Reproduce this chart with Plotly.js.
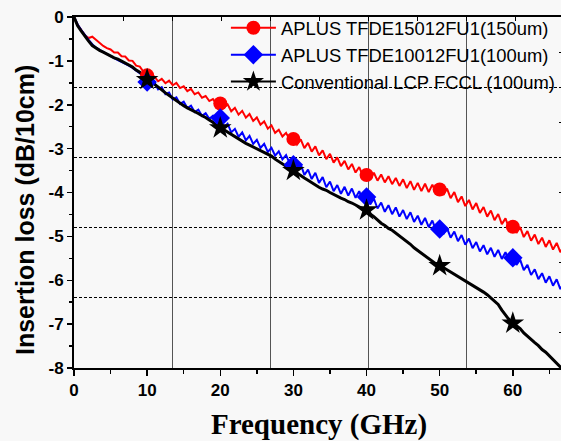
<!DOCTYPE html>
<html>
<head>
<meta charset="utf-8">
<script src="https://cdn.plot.ly/plotly-3.0.1.min.js"></script>
<style>
html,body{margin:0;padding:0;background:#f8f8f8;overflow:hidden;width:561px;height:441px;}
#chart{width:570px;height:441px;}
</style>
</head>
<body>
<div id="chart"></div>
<script>
const freq = [0,0.5,1,1.5,2,2.5,3,3.5,4,4.5,5,5.5,6,6.5,7,7.5,8,8.5,9,9.5,
10,10.5,11,11.5,12,12.5,13,13.5,14,14.5,15,15.5,16,16.5,17,17.5,18,18.5,19,19.5,
20,20.5,21,21.5,22,22.5,23,23.5,24,24.5,25,25.5,26,26.5,27,27.5,28,28.5,29,29.5,
30,30.5,31,31.5,32,32.5,33,33.5,34,34.5,35,35.5,36,36.5,37,37.5,38,38.5,39,39.5,
40,40.5,41,41.5,42,42.5,43,43.5,44,44.5,45,45.5,46,46.5,47,47.5,48,48.5,49,49.5,
50,50.5,51,51.5,52,52.5,53,53.5,54,54.5,55,55.5,56,56.5,57,57.5,58,58.5,59,59.5,
60,60.5,61,61.5,62,62.5,63,63.5,64,64.5,65,65.5,66,66.5,67];

const lossTFDE150 = [0,-0.18,-0.30,-0.42,-0.48,-0.45,-0.52,-0.60,-0.66,-0.71,-0.74,-0.81,-0.81,-0.895,-0.90,-0.99,-1.00,-1.11,-1.13,-1.25,
-1.30,-1.39,-1.36,-1.465,-1.41,-1.51,-1.45,-1.555,-1.50,-1.62,-1.58,-1.69,-1.64,-1.76,-1.72,-1.84,-1.80,-1.915,-1.87,-1.98,
-1.93,-2.07,-1.99,-2.15,-2.07,-2.225,-2.14,-2.295,-2.21,-2.37,-2.29,-2.455,-2.38,-2.545,-2.47,-2.64,-2.57,-2.725,-2.64,-2.80,
-2.72,-2.905,-2.79,-2.99,-2.87,-3.07,-2.95,-3.155,-3.04,-3.24,-3.12,-3.32,-3.20,-3.40,-3.28,-3.475,-3.35,-3.545,-3.42,-3.62,
-3.50,-3.685,-3.55,-3.73,-3.59,-3.77,-3.63,-3.81,-3.67,-3.85,-3.70,-3.90,-3.74,-3.94,-3.78,-3.97,-3.80,-3.99,-3.82,-4.01,
-3.84,-4.055,-3.91,-4.13,-3.99,-4.22,-4.09,-4.31,-4.17,-4.385,-4.24,-4.465,-4.33,-4.55,-4.41,-4.63,-4.49,-4.72,-4.59,-4.82,
-4.69,-4.92,-4.79,-5.015,-4.88,-5.10,-4.96,-5.175,-5.03,-5.24,-5.09,-5.30,-5.15,-5.36,-5.21];

const lossTFDE100 = [0,-0.17,-0.30,-0.42,-0.52,-0.62,-0.70,-0.75,-0.80,-0.845,-0.89,-0.935,-0.98,-1.02,-1.06,-1.11,-1.16,-1.215,-1.27,-1.345,
-1.42,-1.535,-1.50,-1.65,-1.60,-1.76,-1.72,-1.875,-1.83,-1.98,-1.93,-2.075,-2.02,-2.165,-2.11,-2.25,-2.19,-2.32,-2.25,-2.39,
-2.33,-2.51,-2.43,-2.63,-2.55,-2.73,-2.63,-2.81,-2.71,-2.895,-2.80,-2.985,-2.89,-3.075,-2.98,-3.16,-3.06,-3.245,-3.15,-3.34,
-3.26,-3.48,-3.36,-3.60,-3.48,-3.695,-3.55,-3.78,-3.65,-3.88,-3.75,-3.97,-3.83,-4.03,-3.87,-4.07,-3.91,-4.12,-3.97,-4.185,
-4.04,-4.27,-4.14,-4.365,-4.23,-4.44,-4.29,-4.495,-4.34,-4.55,-4.40,-4.605,-4.45,-4.67,-4.53,-4.735,-4.58,-4.79,-4.64,-4.865,
-4.73,-4.95,-4.81,-5.03,-4.89,-5.11,-4.97,-5.19,-5.05,-5.27,-5.13,-5.345,-5.20,-5.41,-5.26,-5.465,-5.31,-5.515,-5.36,-5.565,
-5.41,-5.65,-5.53,-5.77,-5.65,-5.88,-5.75,-5.975,-5.84,-6.055,-5.91,-6.125,-5.98,-6.20,-6.06];

const lossLCP = [0,-0.20,-0.32,-0.45,-0.55,-0.65,-0.71,-0.76,-0.80,-0.85,-0.88,-0.93,-0.96,-1.01,-1.05,-1.10,-1.14,-1.21,-1.26,-1.34,
-1.40,-1.47,-1.53,-1.60,-1.66,-1.73,-1.79,-1.86,-1.91,-1.97,-2.02,-2.07,-2.11,-2.16,-2.20,-2.25,-2.29,-2.35,-2.40,-2.47,
-2.52,-2.58,-2.63,-2.69,-2.74,-2.79,-2.83,-2.88,-2.92,-2.96,-3.00,-3.05,-3.08,-3.13,-3.17,-3.24,-3.30,-3.34,-3.40,-3.44,
-3.50,-3.57,-3.62,-3.67,-3.72,-3.78,-3.82,-3.88,-3.92,-3.95,-4.00,-4.05,-4.08,-4.13,-4.16,-4.21,-4.24,-4.29,-4.32,-4.37,
-4.40,-4.49,-4.55,-4.63,-4.70,-4.75,-4.82,-4.86,-4.92,-4.99,-5.05,-5.11,-5.18,-5.26,-5.32,-5.38,-5.45,-5.52,-5.57,-5.63,
-5.66,-5.71,-5.75,-5.81,-5.85,-5.92,-5.97,-6.01,-6.06,-6.12,-6.17,-6.21,-6.27,-6.33,-6.40,-6.46,-6.55,-6.68,-6.80,-6.90,
-6.97,-7.03,-7.10,-7.20,-7.28,-7.35,-7.42,-7.49,-7.58,-7.64,-7.72,-7.80,-7.90,-7.98,-8.06];

const markerFreq = [10,20,30,40,50,60];
const markTFDE150 = [-1.33,-1.97,-2.78,-3.60,-3.93,-4.78];
const markTFDE100 = [-1.48,-2.30,-3.37,-4.10,-4.83,-5.49];
const markLCP = [-1.43,-2.53,-3.50,-4.40,-5.67,-6.98];

const seriesNames = ['APLUS TFDE15012FU1(150um)','APLUS TFDE10012FU1(100um)','Conventional LCP FCCL (100um)'];
const yTickVals = [0,-1,-2,-3,-4,-5,-6,-7,-8];
const yTickText = ['0','-1','-2','-3','-4','-5','-6','-7','-8'];
const xTitle = 'Frequency (GHz)';
const yTitle = 'Insertion loss (dB/10cm)';

const colors = ['#ff0000','#0000ff','#000000'];
const symbols = ['circle','diamond','star'];
const curves = [lossTFDE150, lossTFDE100, lossLCP];
const marks = [markTFDE150, markTFDE100, markLCP];
const lineW = [2, 2, 3];
const mSize = [14, 15, 17];

const traces = [];
for (let i = 0; i < 3; i++) {
  traces.push({x: freq, y: curves[i], mode: 'lines', line: {color: colors[i], width: lineW[i]},
    showlegend: false, hoverinfo: 'skip'});
}
for (let i = 0; i < 3; i++) {
  traces.push({x: markerFreq, y: marks[i], mode: 'markers',
    marker: {color: colors[i], symbol: symbols[i], size: mSize[i], line: {width: 0}},
    showlegend: false, hoverinfo: 'skip'});
}
for (let i = 0; i < 3; i++) {
  traces.push({x: [null], y: [null], mode: 'lines+markers', name: seriesNames[i],
    line: {color: colors[i], width: 2},
    marker: {color: colors[i], symbol: symbols[i], size: mSize[i], line: {width: 0}}});
}
traces.push({x: [null], y: [null], xaxis: 'x2', yaxis: 'y2', mode: 'markers', showlegend: false, hoverinfo: 'skip'});

const tickFont = {family: 'Liberation Sans, Arial, sans-serif', size: 17, color: '#000', weight: 'bold'};

const layout = {
  width: 570, height: 441,
  margin: {l: 74, r: 6, t: 17, b: 73},
  paper_bgcolor: '#f8f8f8', plot_bgcolor: '#f8f8f8',
  showlegend: true,
  legend: {x: 0.31, xanchor: 'left', y: 1.022, yanchor: 'top', bgcolor: 'rgba(0,0,0,0)',
    font: {family: 'Liberation Sans, Arial, sans-serif', size: 18.4, color: '#000'},
    itemwidth: 45, tracegroupgap: 0},
  xaxis: {range: [0, 67], tick0: 0, dtick: 10, ticks: 'outside', ticklen: 6, tickwidth: 1.5, tickcolor: '#000',
    minor: {dtick: 5, ticks: 'outside', ticklen: 4, tickwidth: 1.5, tickcolor: '#000'},
    showline: true, linewidth: 2, linecolor: '#000', showgrid: false, zeroline: false,
    tickfont: tickFont,
    title: {text: xTitle, standoff: 14,
      font: {family: 'Liberation Serif, Times New Roman, serif', size: 29, color: '#000', weight: 'bold'}}},
  yaxis: {range: [-8, 0], tickmode: 'array', tickvals: yTickVals, ticktext: yTickText,
    ticks: 'outside', ticklen: 5, tickwidth: 1.5, tickcolor: '#000',
    minor: {tickmode: 'linear', tick0: 0, dtick: 0.5, ticks: 'outside', ticklen: 3, tickwidth: 1.5, tickcolor: '#000'},
    showline: true, linewidth: 2, linecolor: '#000', showgrid: false, zeroline: false,
    tickfont: tickFont},
  xaxis2: {overlaying: 'x', side: 'top', anchor: 'y2', range: [0, 67], tick0: 0, dtick: 13.4,
    ticks: 'inside', ticklen: 4, tickcolor: '#000', showticklabels: false,
    minor: {dtick: 6.7, ticks: 'inside', ticklen: 4, tickcolor: '#000'},
    showline: true, linewidth: 2, linecolor: '#000',
    showgrid: true, gridcolor: '#555555', gridwidth: 1, zeroline: false},
  yaxis2: {overlaying: 'y', side: 'right', anchor: 'x2', range: [-8, 0], tick0: 0, dtick: 1.6,
    ticks: 'inside', ticklen: 5, tickcolor: '#000', showticklabels: false,
    minor: {dtick: 0.8, ticks: 'inside', ticklen: 5, tickcolor: '#000'},
    showline: true, linewidth: 2, linecolor: '#000',
    showgrid: true, gridcolor: '#000', gridwidth: 1, griddash: '3px,2px', zeroline: false},
  annotations: [{text: yTitle, textangle: -90, xref: 'paper', yref: 'paper',
    x: 0, xshift: -49, xanchor: 'center', y: 0.45, yanchor: 'middle', showarrow: false,
    font: {family: 'Liberation Sans, Arial, sans-serif', size: 25, color: '#000', weight: 'bold'}}]
};

Plotly.newPlot('chart', traces, layout, {displayModeBar: false, staticPlot: true});
</script>
</body>
</html>
